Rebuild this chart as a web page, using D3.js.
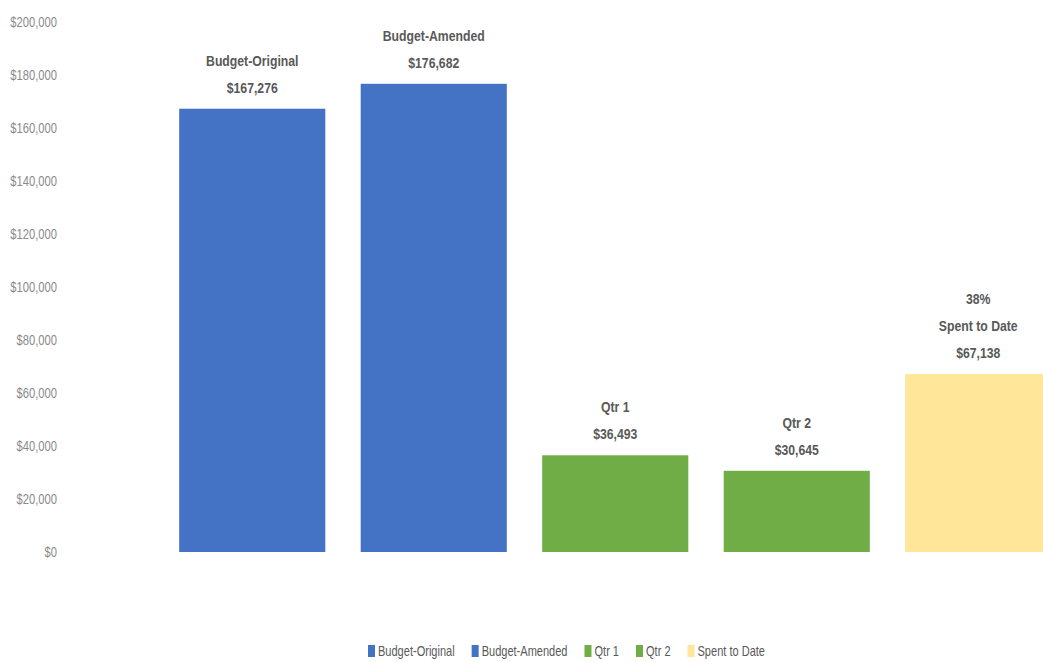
<!DOCTYPE html>
<html>
<head>
<meta charset="utf-8">
<script src="https://cdn.jsdelivr.net/npm/d3@7.9.0/dist/d3.min.js"></script>
<style>
  body { margin: 0; background: #fff; }
  svg { display: block; font-family: "Liberation Sans", Arial, sans-serif; }
</style>
</head>
<body>
<svg id="chart" width="1043" height="662"></svg>
<script>
const categories = ['Budget-Original', 'Budget-Amended', 'Qtr 1', 'Qtr 2', 'Spent to Date'];
const values = [167276, 176682, 36493, 30645, 67138];
const labelLines = [
  ['Budget-Original', '$167,276'],
  ['Budget-Amended', '$176,682'],
  ['Qtr 1', '$36,493'],
  ['Qtr 2', '$30,645'],
  ['38%', 'Spent to Date', '$67,138']
];
const yTicks = [0, 20000, 40000, 60000, 80000, 100000, 120000, 140000, 160000, 180000, 200000];
const colors = ['#4472C4', '#4472C4', '#70AD47', '#70AD47', '#FFE699'];

// Calibri-like narrowing, no condensed font installed
const narrow = 0.8;

const svg = d3.select('#chart');

const x = d3.scaleBand()
  .domain(categories)
  .range([161.5, 1069])
  .paddingInner(0.195)
  .paddingOuter(0.0975);

const y = d3.scaleLinear()
  .domain([0, 200000])
  .range([552, 22]);

// y axis, labels only
const yAxis = svg.append('g')
  .attr('transform', 'translate(57,0)')
  .call(d3.axisLeft(y).tickValues(yTicks).tickSize(0).tickPadding(0)
    .tickFormat(d => '$' + d3.format(',')(d)));
yAxis.select('.domain').remove();
yAxis.selectAll('text')
  .attr('fill', '#8a8a8a')
  .attr('transform', 'scale(0.8,1)')
  .style('font-size', '14px');

// bars
svg.append('g').selectAll('rect')
  .data(values)
  .join('rect')
  .attr('x', (d, i) => x(categories[i]))
  .attr('width', x.bandwidth())
  .attr('y', d => y(d))
  .attr('height', d => y(0) - y(d))
  .attr('fill', (d, i) => colors[i]);

// data labels
const labels = svg.append('g');
values.forEach((d, i) => {
  const lines = labelLines[i];
  const cx = x(categories[i]) + x.bandwidth() / 2;
  const base = y(d) - 16;
  lines.forEach((t, j) => {
    labels.append('text')
      .attr('transform', `translate(${cx},${base - (lines.length - 1 - j) * 27}) scale(${narrow},1)`)
      .attr('text-anchor', 'middle')
      .attr('fill', '#595959')
      .style('font-size', '15.3px')
      .style('font-weight', 'bold')
      .text(t);
  });
});

// legend
const legend = svg.append('g').attr('transform', 'translate(0,651)');
let lx = 368;
categories.forEach((c, i) => {
  const g = legend.append('g').attr('transform', `translate(${lx},0)`);
  g.append('rect').attr('x', 0).attr('y', -6).attr('width', 7).attr('height', 12).attr('fill', colors[i]);
  const t = g.append('text')
    .attr('transform', `translate(10,0) scale(${narrow},1)`)
    .attr('dy', '0.35em')
    .attr('fill', '#595959')
    .style('font-size', '13.8px')
    .text(c);
  lx += 10 + t.node().getComputedTextLength() * narrow + 17;
});
</script>
</body>
</html>
